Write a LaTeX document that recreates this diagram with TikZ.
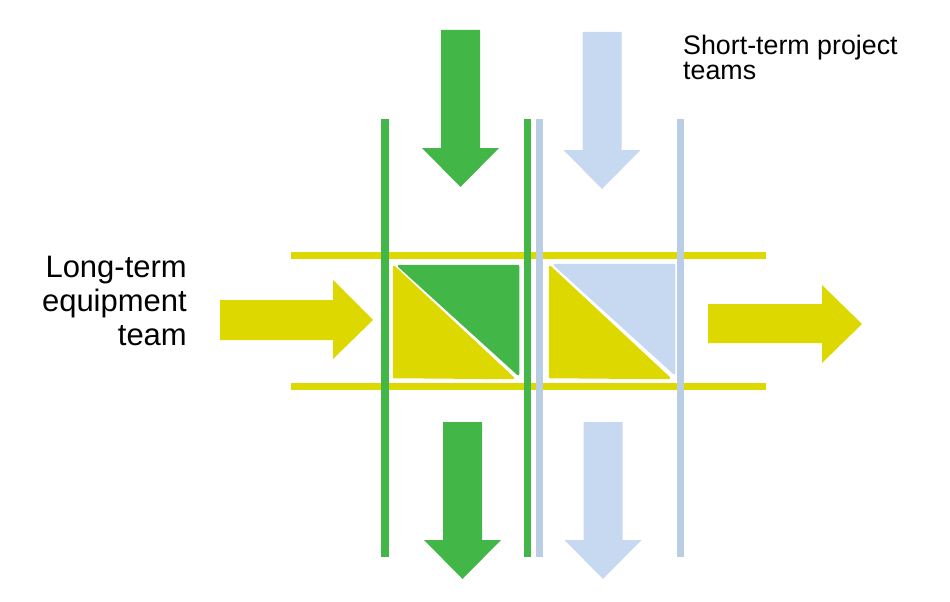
\documentclass[tikz,border=0pt]{standalone}
\usepackage{fontspec}
\setmainfont{Liberation Sans}
\definecolor{teamgreen}{RGB}{67,182,72}
\definecolor{teamyellow}{RGB}{221,217,0}
\definecolor{teamblue}{RGB}{198,217,240}
\definecolor{barblue}{RGB}{185,205,229}

\begin{document}
\begin{tikzpicture}[x=1pt, y=-1pt,
        bar/.style={line width=7.5pt},
        piece/.style={draw=white, line width=2.5pt, line join=round},
        label/.style={inner sep=0pt, align=#1}]
        \useasboundingbox (0,0) rectangle (950,602);

        % horizontal bars of the long-term team
        \draw[bar, teamyellow] (291,255.5) -- (766,255.5);
        \draw[bar, teamyellow] (291,386.5) -- (766,386.5);

        % vertical bars of the project teams
        \draw[bar, teamgreen] (385,119) -- (385,557);
        \draw[bar, teamgreen] (527.5,119) -- (527.5,557);
        \draw[bar, barblue] (539.5,119) -- (539.5,557);
        \draw[bar, barblue] (680.5,119) -- (680.5,557);

        % split squares
        \fill[piece, teamgreen] (399,266) -- (518,266) -- (518,374) -- cycle;
        \fill[piece, teamyellow] (394,267) -- (394,377) -- (513,378) -- cycle;
        \fill[piece, teamblue] (555,265) -- (674,265) -- (674,373) -- cycle;
        \fill[piece, teamyellow] (550,267) -- (550,377) -- (669,378) -- cycle;

        % down arrows
        \foreach \cx/\top/\col in {460.5/30/teamgreen, 602/32/teamblue, 462.5/422/teamgreen, 603/422/teamblue} {
            \fill[\col] (\cx-19.5,\top) -- (\cx+19.5,\top) -- (\cx+19.5,\top+118) -- (\cx+38.5,\top+118)
                -- (\cx,\top+157) -- (\cx-38.5,\top+118) -- (\cx-19.5,\top+118) -- cycle;
        }

        % right arrows
        \fill[teamyellow] (220,300) -- (333,300) -- (333,280) -- (373,320) -- (333,359) -- (333,340) -- (220,340) -- cycle;
        \fill[teamyellow] (708,304) -- (822,304) -- (822,285) -- (862,324) -- (822,363) -- (822,343) -- (708,343) -- cycle;

        % labels
        \node[label=right, anchor=north east, font=\fontsize{31}{34}\selectfont] (longterm) at (187,256) {Long-term\\equipment\\team};
        \node[label=left, anchor=north west, font=\fontsize{26.8}{25}\selectfont] (shortterm) at (683,34.5) {Short-term project\\teams};
    \end{tikzpicture}
\end{document}
